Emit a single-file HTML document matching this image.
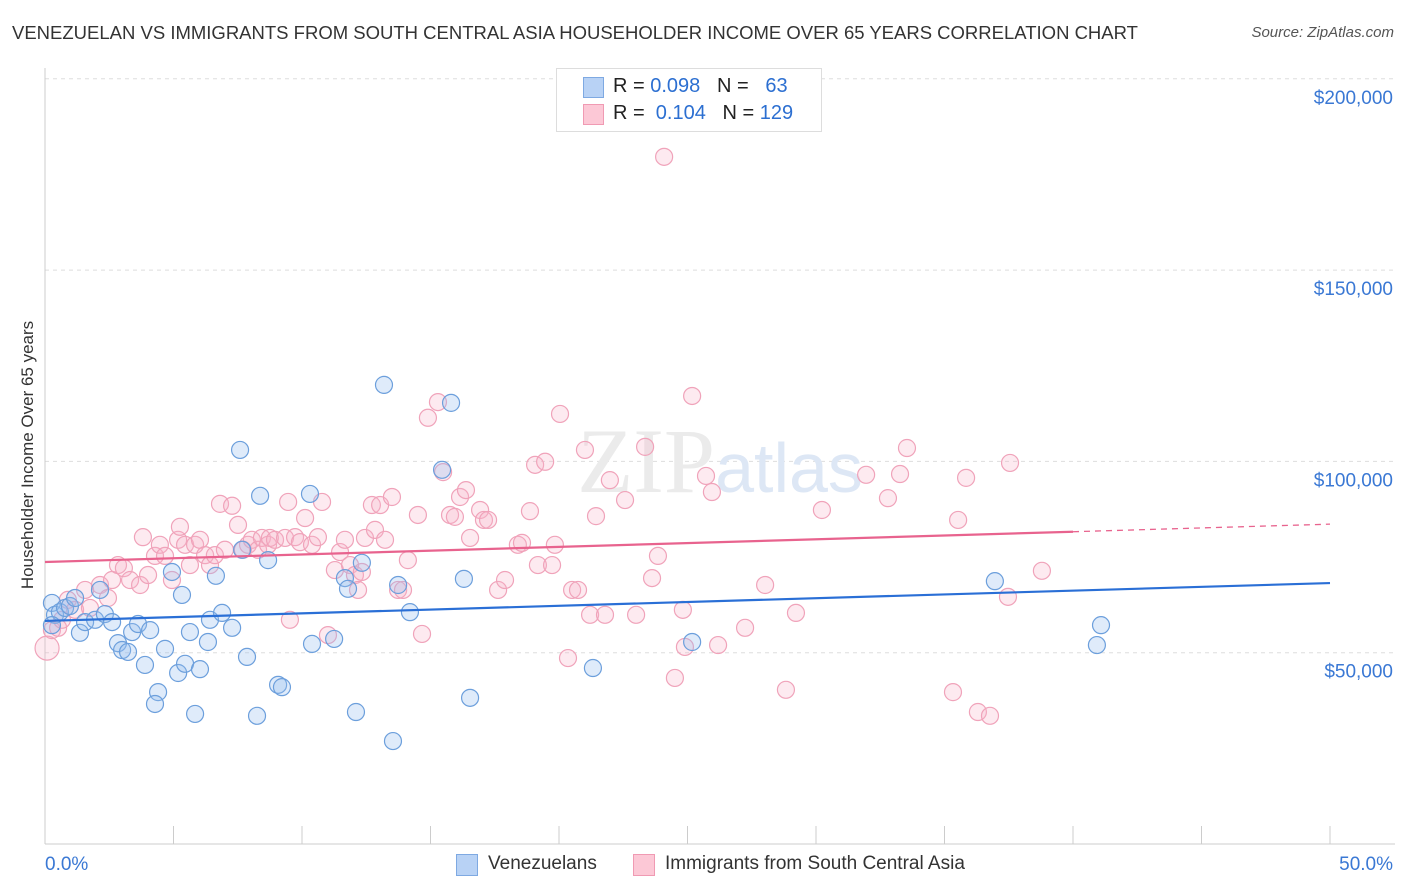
<!DOCTYPE html>
<html><head><meta charset="utf-8"><style>
body{margin:0;background:#fff;font-family:"Liberation Sans",sans-serif;}
#wrap{position:relative;width:1406px;height:892px;overflow:hidden;}
.t{position:absolute;white-space:nowrap;}
</style></head><body>
<div id="wrap">
<div class="t" style="left:12px;top:22px;font-size:18.5px;color:#333;">VENEZUELAN VS IMMIGRANTS FROM SOUTH CENTRAL ASIA HOUSEHOLDER INCOME OVER 65 YEARS CORRELATION CHART</div>
<div class="t" style="right:12px;top:24px;font-size:15px;color:#555;font-style:italic;">Source: ZipAtlas.com</div>
<div class="t" style="left:28px;top:455px;font-size:17px;color:#333;transform:translate(-50%,-50%) rotate(-90deg);">Householder Income Over 65 years</div>
<svg id="svg" width="1406" height="892" style="position:absolute;left:0;top:0"></svg>
<div style="position:absolute;left:556px;top:68px;width:264px;height:62px;border:1px solid #ddd;background:#fff;font-size:20px;">
 <div style="position:absolute;left:26px;top:8px;width:19px;height:19px;background:#b8d2f5;border:1px solid #7ea9e2;"></div>
 <div class="t" style="left:56px;top:6px;color:#222">R = <span style="color:#2c6fd1">0.098</span>&nbsp;&nbsp;&nbsp;N = &nbsp;&nbsp;<span style="color:#2c6fd1">63</span></div>
 <div style="position:absolute;left:26px;top:35px;width:19px;height:19px;background:#fcc8d6;border:1px solid #f09ab3;"></div>
 <div class="t" style="left:56px;top:33px;color:#222">R = &nbsp;<span style="color:#2c6fd1">0.104</span>&nbsp;&nbsp;&nbsp;N = <span style="color:#2c6fd1">129</span></div>
</div>
<div style="position:absolute;left:456px;top:853px;font-size:19px;color:#333;">
 <div style="position:absolute;left:0;top:1px;width:20px;height:20px;background:#b8d2f5;border:1px solid #7ea9e2;"></div>
 <div class="t" style="left:32px;top:0">Venezuelans</div>
 <div style="position:absolute;left:177px;top:1px;width:20px;height:20px;background:#fcc8d6;border:1px solid #f09ab3;"></div>
 <div class="t" style="left:209px;top:0">Immigrants from South Central Asia</div>
</div>
</div>
<script>
const blueX=[0.27,0.39,0.58,0.78,0.97,1.17,1.36,1.56,1.95,2.14,2.33,2.61,2.84,3.00,3.23,3.39,3.62,3.89,4.09,4.40,4.28,4.67,4.94,5.18,5.33,5.45,5.64,5.84,6.03,6.34,6.42,6.65,6.89,7.28,7.59,7.67,7.86,8.25,8.37,8.68,9.07,9.22,10.31,10.39,11.25,11.67,11.79,12.10,12.33,13.19,13.54,13.74,14.20,15.45,15.80,16.30,16.54,21.32,25.18,36.96,40.93,41.09,0.27];
const blueY=[63.0,59.9,60.6,61.7,62.2,64.3,55.2,58.0,58.6,66.4,60.1,58.0,52.5,50.7,50.2,55.4,57.5,46.8,55.9,39.7,36.6,51.0,71.1,44.7,65.1,47.1,55.4,34.0,45.7,52.8,58.6,70.1,60.4,56.5,103.0,76.9,48.9,33.5,91.0,74.2,41.6,41.0,91.5,52.3,53.6,69.5,66.7,34.5,73.5,120.0,26.9,67.7,60.6,97.8,115.3,69.3,38.2,46.0,52.8,68.7,52.0,57.2,57.2];
const pinkX=[0.08,0.27,0.51,0.66,0.89,1.17,1.56,1.75,2.14,2.45,2.61,2.84,3.07,3.31,3.70,3.81,4.01,4.28,4.47,4.67,4.94,5.18,5.25,5.45,5.64,5.84,6.03,6.23,6.42,6.61,6.81,7.00,7.28,7.51,7.70,7.90,8.05,8.29,8.44,8.68,8.75,8.95,9.34,9.46,9.53,9.73,9.92,10.12,10.39,10.62,10.78,11.01,11.28,11.48,11.67,11.87,12.06,12.18,12.33,12.45,12.72,12.84,13.04,13.23,13.50,13.74,13.93,14.12,14.51,14.67,14.90,15.29,15.49,15.76,15.95,16.15,16.38,16.54,16.93,17.08,17.24,17.63,17.90,18.40,18.56,18.87,19.07,19.18,19.46,19.73,19.84,20.04,20.35,20.51,20.74,21.01,21.21,21.44,21.79,21.98,22.57,23.00,23.35,23.62,23.85,24.09,24.51,24.82,24.90,25.18,25.72,25.95,26.19,27.24,28.02,28.83,29.22,30.23,31.95,32.80,33.27,33.54,35.53,35.33,35.84,36.30,36.77,37.55,37.47,38.79];
const pinkY=[51.2,55.9,56.5,58.6,63.8,61.2,66.4,61.7,67.7,64.3,69.0,72.9,72.1,69.0,67.7,80.2,70.3,75.3,78.2,75.3,69.0,79.5,82.9,78.2,72.9,78.2,79.5,75.5,72.9,75.5,88.9,76.9,88.4,83.4,76.9,78.2,79.5,76.9,80.0,78.2,80.0,79.5,80.0,89.4,58.6,80.2,78.9,85.2,78.2,80.2,89.4,54.6,71.6,76.3,79.5,72.9,70.3,66.4,71.1,80.0,88.6,82.1,88.6,79.5,90.7,66.4,66.4,74.2,86.0,54.9,111.4,115.5,97.2,86.0,85.5,90.7,92.5,80.0,87.3,84.7,84.7,66.4,69.0,78.2,78.7,87.0,99.1,72.9,99.9,72.9,78.2,112.4,48.6,66.4,66.4,103.0,59.9,85.7,59.9,95.1,89.9,59.9,103.8,69.5,75.3,179.6,43.4,61.2,51.5,117.1,96.2,92.0,52.0,56.5,67.7,40.3,60.4,87.3,96.5,90.4,96.7,103.5,84.7,39.7,95.7,34.5,33.5,99.6,64.6,71.4];
const blueTrend=[58.3,68.2];
const pinkTrend=[73.7,83.6];
const yTicks=[50,100,150,200];
const yTickLabels=["$50,000","$100,000","$150,000","$200,000"];

const svg=document.getElementById('svg');
const NS='http://www.w3.org/2000/svg';
const X0=45,X1=1330,Y0=844,YPER=191.3/50;
const xs=v=>X0+(v/50)*(X1-X0);
const ys=v=>Y0-v*YPER;
function mk(t,a){const e=document.createElementNS(NS,t);for(const k in a)e.setAttribute(k,a[k]);svg.appendChild(e);return e;}

yTicks.forEach((v,i)=>{
  const g=mk('line',{x1:X0,x2:1395,y1:ys(v),y2:ys(v),stroke:'#ddd','stroke-dasharray':'4,4'});
  
  
  const t=mk('text',{x:1393,y:ys(v)+25,'text-anchor':'end','font-size':19,fill:'#3a78d4','font-family':'Liberation Sans, sans-serif'});
  t.textContent=yTickLabels[i];
  
  
});
const ax=mk('line',{x1:X0,x2:X0,y1:68,y2:Y0,stroke:'#ccc'});


const bx=mk('line',{x1:X0,x2:1395,y1:Y0,y2:Y0,stroke:'#ccc'});


for(let i=0;i<=10;i++){
  const tk=mk('line',{x1:xs(i*5),x2:xs(i*5),y1:Y0-18,y2:Y0,stroke:'#ccc'});
  
  
}
const xl0=mk('text',{x:45,y:870,'font-size':19,fill:'#3a78d4','font-family':'Liberation Sans, sans-serif'});xl0.textContent='0.0%';


const xl1=mk('text',{x:1393,y:870,'text-anchor':'end','font-size':19,fill:'#3a78d4','font-family':'Liberation Sans, sans-serif'});xl1.textContent='50.0%';



const wm=mk('text',{x:720,y:492,'text-anchor':'middle','font-size':92,fill:'#ebebeb','font-family':'Liberation Serif, serif'});
wm.innerHTML='ZIP<tspan fill="#dde7f5" font-family="Liberation Sans, sans-serif" font-size="70">atlas</tspan>';



pinkX.forEach((x,i)=>{
  const c=mk('circle',{cx:xs(x),cy:ys(pinkY[i]),r:i==0?12:8.5,fill:'rgba(248,180,200,0.28)',stroke:'#f0a3ba','stroke-width':1.2});
  
  
});
blueX.forEach((x,i)=>{
  const c=mk('circle',{cx:xs(x),cy:ys(blueY[i]),r:8.5,fill:'rgba(150,190,240,0.3)',stroke:'#6c9fdc','stroke-width':1.2});
  
  
});
const bl=mk('line',{x1:xs(0),y1:ys(blueTrend[0]),x2:xs(50),y2:ys(blueTrend[1]),stroke:'#2a6fd6','stroke-width':2.2});


const pm=pinkTrend[0]+(pinkTrend[1]-pinkTrend[0])*0.8;
const pl=mk('line',{x1:xs(0),y1:ys(pinkTrend[0]),x2:xs(40),y2:ys(pm),stroke:'#e8638e','stroke-width':2.2});


const pd=mk('line',{x1:xs(40),y1:ys(pm),x2:xs(50),y2:ys(pinkTrend[1]),stroke:'#e8638e','stroke-width':1.3,'stroke-dasharray':'6,5'});


</script>
</body></html>
